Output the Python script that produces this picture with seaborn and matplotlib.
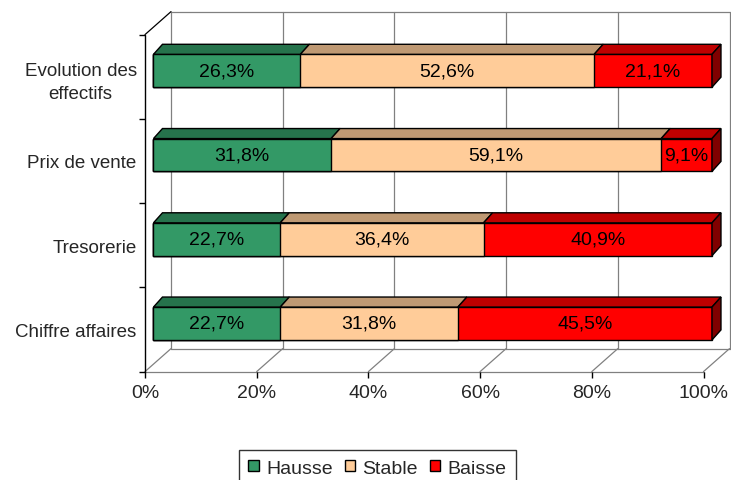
import matplotlib
matplotlib.use("Agg")
from matplotlib import pyplot as plt
from matplotlib.patches import Polygon, Patch
import seaborn as sns
import pandas as pd

# %%
categories = ['Evolution des\neffectifs', 'Prix de vente', 'Tresorerie', 'Chiffre affaires']
series = ['Hausse', 'Stable', 'Baisse']
hausse = [26.3, 31.8, 22.7, 22.7]
stable = [52.6, 59.1, 36.4, 31.8]
baisse = [21.1, 9.1, 40.9, 45.5]
x_ticks = [0, 20, 40, 60, 80, 100]

front_colors = {'Hausse': '#339966', 'Stable': '#FFCC99', 'Baisse': '#FF0000'}
top_colors = {'Hausse': '#26734C', 'Stable': '#BF9973', 'Baisse': '#BF0000'}
side_color = '#800000'

# %%
df = pd.DataFrame({'cat': categories, 'Hausse': hausse, 'Stable': stable, 'Baisse': baisse})
df['end_Hausse'] = df['Hausse']
df['end_Stable'] = df['end_Hausse'] + df['Stable']
df['end_Baisse'] = df['end_Stable'] + df['Baisse']

sns.set_style('white')
plt.rcParams['font.family'] = ['Liberation Sans', 'DejaVu Sans']

W, H = 731, 481
fig = plt.figure(figsize=(W / 100, H / 100), dpi=100)
ax = fig.add_axes([145 / W, (481 - 372.6) / H, 586 / W, 360 / H])

# 3D geometry (data units)
x_front = -1.52          # front plane offset vs bar faces
wall_dx, wall_dy = 4.66, 0.273
bar_dx, bar_dy = 1.61, 0.119
bar_h = 0.39
cat_shift = 0.071
floor_y = 3.5 + cat_shift
top_y = -0.5 + cat_shift - wall_dy
grid_c = '#808080'
fs = 14

# walls, floor and gridlines
for v in x_ticks:
    xb = v + x_front + wall_dx
    ax.plot([xb, xb], [floor_y - wall_dy, top_y], color=grid_c, lw=0.9, zorder=0.5, clip_on=False)
    ax.plot([v + x_front, xb], [floor_y, floor_y - wall_dy], color=grid_c, lw=0.9, zorder=0.5, clip_on=False)
ax.plot([x_front + wall_dx, 100 + x_front + wall_dx], [top_y, top_y], color=grid_c, lw=0.9, zorder=0.5, clip_on=False)
ax.plot([x_front + wall_dx, 100 + x_front + wall_dx], [floor_y - wall_dy] * 2, color=grid_c, lw=0.9, zorder=0.5, clip_on=False)
ax.plot([x_front, 100 + x_front], [floor_y, floor_y], color=grid_c, lw=0.9, zorder=0.5, clip_on=False)
ax.plot([x_front, x_front + wall_dx], [top_y + wall_dy, top_y], color='black', lw=0.9, zorder=0.5, clip_on=False)
ax.plot([x_front, x_front], [floor_y, top_y + wall_dy], color='black', lw=1.0, zorder=3, clip_on=False)

# stacked bars: cumulative layers, widest first
for s in reversed(series):
    sns.barplot(data=df, x='end_' + s, y='cat', order=categories, color=front_colors[s],
                saturation=1, width=bar_h, edgecolor='black', linewidth=1, ax=ax, zorder=2)

# top faces, side face and labels
for i, row in df.iterrows():
    start = 0
    for s in series:
        end = row['end_' + s]
        yt = i - bar_h / 2
        ax.add_patch(Polygon([(start, yt), (end, yt), (end + bar_dx, yt - bar_dy), (start + bar_dx, yt - bar_dy)],
                             closed=True, facecolor=top_colors[s], edgecolor='black', lw=1, zorder=2))
        ax.text((start + end) / 2, i, f"{row[s]:.1f}%".replace('.', ','), ha='center', va='center',
                fontsize=fs, color='black', zorder=4)
        start = end
    yt, yb = i - bar_h / 2, i + bar_h / 2
    ax.add_patch(Polygon([(start, yt), (start, yb), (start + bar_dx, yb - bar_dy), (start + bar_dx, yt - bar_dy)],
                         closed=True, facecolor=side_color, edgecolor='black', lw=1, zorder=2))

ax.set_xlim(x_front, x_front + 586 / 5.585)
ax.set_ylim(floor_y, top_y)
ax.set_xticks([v + x_front for v in x_ticks])
ax.set_xticklabels([f"{v}%" for v in x_ticks], fontsize=fs)
ax.set_yticks([i + cat_shift for i in range(len(categories))])
ax.set_yticklabels(categories, fontsize=13.5, ha='right', multialignment='center', linespacing=1.45)
ax.set_yticks([i - 0.5 + cat_shift for i in range(len(categories) + 1)], minor=True)
ax.tick_params(axis='x', which='major', length=4, width=1, color='black', pad=5, bottom=True)
ax.tick_params(axis='y', which='major', length=0, pad=6)
ax.tick_params(axis='y', which='minor', length=4, width=1, color='black', left=True)
ax.set_xlabel('')
ax.set_ylabel('')
for sp in ax.spines.values():
    sp.set_visible(False)
ax.patch.set_visible(False)

handles = [Patch(facecolor=front_colors[s], edgecolor='black', lw=1, label=s) for s in series]
leg = fig.legend(handles=handles, loc='upper center', bbox_to_anchor=(377.5 / W, 30 / H), ncol=3,
                 fontsize=fs, frameon=True, fancybox=False, edgecolor='black', handlelength=0.52,
                 handleheight=0.52, handletextpad=0.4, columnspacing=0.6, borderpad=0.5,
                 borderaxespad=0)
leg.get_frame().set_linewidth(1)

fig.savefig('out.png', dpi=100, facecolor='white')
